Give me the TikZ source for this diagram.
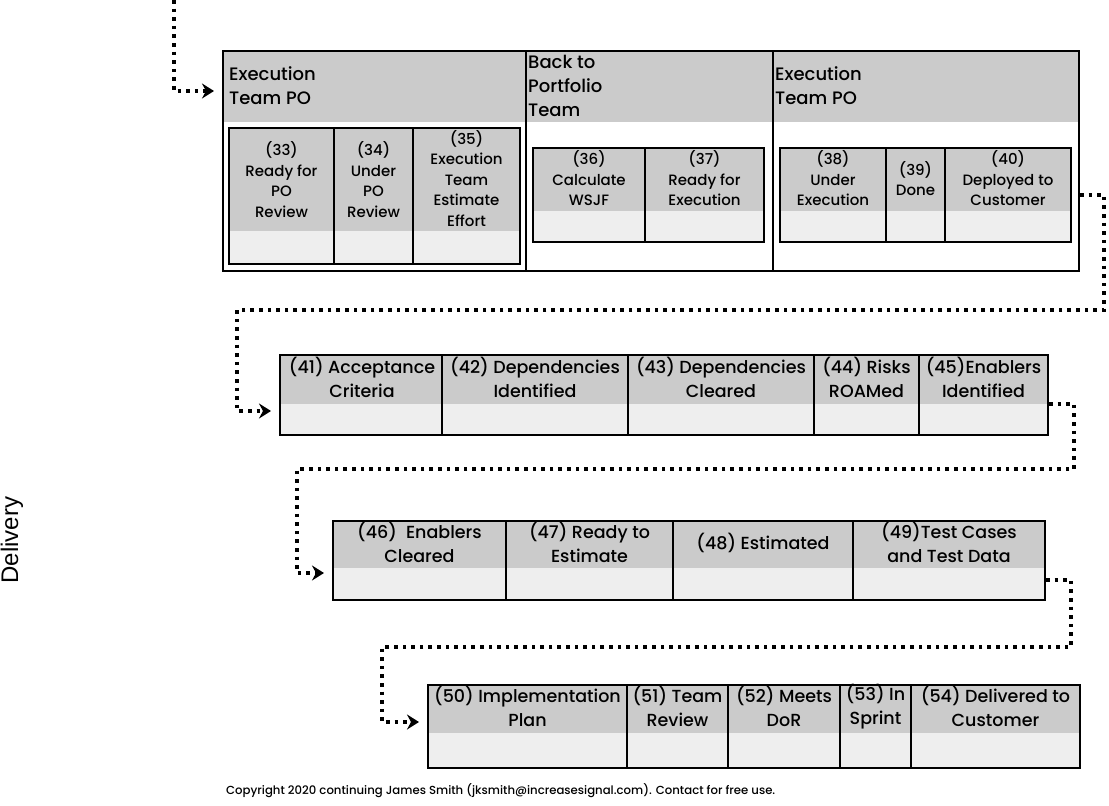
\documentclass[tikz,border=0pt]{standalone}
\usepackage{fontspec}
\setmainfont{Poppins}[UprightFont=* Medium]
\newfontfamily\arialf{Liberation Sans}
\usetikzlibrary{arrows.meta}
\definecolor{hdrc}{HTML}{CBCBCB}
\definecolor{bodyc}{HTML}{EEEEEE}
\newcommand\mytable[7]{% name x1 y1 x2 ym y2 linewidth
  \fill[hdrc] (#2,#3) rectangle (#4,#5);
  \fill[bodyc] (#2,#5) rectangle (#4,#6);
  \node[draw, line width=#7, inner sep=0, outer sep=0, anchor=north west,
        minimum width={(#4-#2)*1pt}, minimum height={(#6-#3)*1pt}] (#1) at (#2,#3) {};
}
\newcommand\mydiv[3]{\draw[line width=1.5pt] (#1,#2) -- (#1,#3);}
\begin{document}
\begin{tikzpicture}[x=1pt,y=-1pt,
  lbl/.style={align=center, inner sep=0, font=\fontsize{15}{20.5}\selectfont},
  lblb/.style={align=center, inner sep=0, font=\fontsize{17.5}{24}\selectfont},
  ttl/.style={align=left, anchor=west, inner sep=0, font=\fontsize{18}{24}\selectfont},
  conn/.style={line width=3.6pt, dash pattern=on 3.6pt off 5pt,
     -{Stealth[length=12pt,width=15pt,inset=4pt]}, shorten >=9pt}]
\useasboundingbox (0,0) rectangle (1109,806);

% ---------- top container ----------
\fill[hdrc] (223,51) rectangle (1079,122);
\node[draw, line width=2pt, inner sep=0, outer sep=0, anchor=north west,
      minimum width=856pt, minimum height=220pt] (top) at (223,51) {};
\draw[line width=1.8pt] (526,51) -- (526,271);
\draw[line width=1.8pt] (773,51) -- (773,271);
\node[ttl] (h1) at (229,86) {Execution\\Team PO};
\node[ttl] (h2) at (528,86) {Back to\\Portfolio\\Team};
\node[ttl] (h3) at (775,86) {Execution\\Team PO};

% table 1
\mytable{t1}{229}{128}{520}{231}{264}{2.4pt}
\mydiv{334}{128}{264}
\mydiv{413}{128}{264}
\node[lbl] (c33) at (281.5,179.5) {(33)\\Ready for\\PO\\Review};
\node[lbl] (c34) at (373.5,179.5) {(34)\\Under\\PO\\Review};
\node[lbl] (c35) at (466.5,178.5) {(35)\\Execution\\Team\\Estimate\\Effort};

% table 2
\mytable{t2}{533}{148}{764}{211}{242}{2pt}
\mydiv{645}{148}{242}
\node[lbl] (c36) at (589,178.5) {(36)\\Calculate\\WSJF};
\node[lbl] (c37) at (704.5,178.5) {(37)\\Ready for\\Execution};

% table 3
\mytable{t3}{780}{148}{1071}{211}{242}{2pt}
\mydiv{886}{148}{242}
\mydiv{945}{148}{242}
\node[lbl] (c38) at (833,178.5) {(38)\\Under\\Execution};
\node[lbl] (c39) at (915.5,178.5) {(39)\\Done};
\node[lbl] (c40) at (1008,178.5) {(40)\\Deployed to\\Customer};

% ---------- row 2 ----------
\mytable{r2}{280}{355}{1048}{404}{435}{2pt}
\mydiv{442}{355}{435}
\mydiv{628}{355}{435}
\mydiv{814}{355}{435}
\mydiv{919}{355}{435}
\node[lblb] (c41) at (362,377.5) {(41) Acceptance\\Criteria};
\node[lblb] (c42) at (535,377.5) {(42) Dependencies\\Identified};
\node[lblb] (c43) at (721,377.5) {(43) Dependencies\\Cleared};
\node[lblb] (c44) at (866.5,377.5) {(44) Risks\\ROAMed};
\node[lblb] (c45) at (983.5,377.5) {(45)Enablers\\Identified};

% ---------- row 3 ----------
\mytable{r3}{333}{521}{1045}{568}{600}{2pt}
\mydiv{506}{521}{600}
\mydiv{673}{521}{600}
\mydiv{853}{521}{600}
\node[lblb] (c46) at (419.5,542.5) {(46)~ Enablers\\Cleared};
\node[lblb] (c47) at (589.5,542.5) {(47) Ready to\\Estimate};
\node[lblb] (c48) at (763,543) {(48) Estimated};
\node[lblb] (c49) at (949,542.5) {(49)Test Cases\\and Test Data};

% ---------- row 4 ----------
\mytable{r4}{428}{685}{1080}{733}{768}{2pt}
\mydiv{627}{685}{768}
\mydiv{728}{685}{768}
\mydiv{840}{685}{768}
\mydiv{911}{685}{768}
\node[lblb] (c50) at (527.5,706.5) {(50) Implementation\\Plan};
\node[lblb] (c51) at (677.5,706.5) {(51) Team\\Review};
\node[lblb] (c52) at (784,706.5) {(52) Meets\\DoR};
\node[lblb] (c53) at (875.5,706.5) {(53) In\\Sprint};
\node[lblb] (c54) at (995.5,706.5) {(54) Delivered to\\Customer};

% ---------- connectors ----------
\coordinate (s1) at (174,0);
\coordinate (e1) at (223,91);
\draw[conn] (s1) |- (e1);

\coordinate (s2) at (1080,195);
\coordinate (k2a) at (1104,310);
\coordinate (k2b) at (237,411);
\coordinate (e2) at (280,411);
\draw[conn] (s2) -| (k2a) -| (k2b) -- (e2);

\coordinate (s3) at (1049,404);
\coordinate (k3a) at (1074,469);
\coordinate (k3b) at (297,573);
\coordinate (e3) at (333,573);
\draw[conn] (s3) -| (k3a) -| (k3b) -- (e3);

\coordinate (s4) at (1046,580);
\coordinate (k4a) at (1071,647);
\coordinate (k4b) at (382,722);
\coordinate (e4) at (428,722);
\draw[conn] (s4) -| (k4a) -| (k4b) -- (e4);

% ---------- side label and copyright ----------
\node[rotate=90, inner sep=0, font=\arialf\fontsize{24}{28}\selectfont] (del) at (12,540) {Delivery};
\node[anchor=west, inner sep=0, font=\fontsize{11.7}{13}\selectfont] (copy) at (226,791)
  {Copyright 2020 continuing James Smith (jksmith@increasesignal.com). Contact for free use.};
\end{tikzpicture}
\end{document}
